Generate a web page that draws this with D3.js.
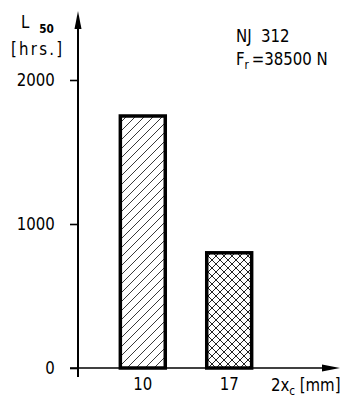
<!DOCTYPE html>
<html>
<head>
<meta charset="utf-8">
<script src="https://cdn.jsdelivr.net/npm/d3@7"></script>
<style>
  html, body { margin: 0; padding: 0; background: #fff; }
  svg { display: block; }
  text { font-family: "DejaVu Sans Condensed", "DejaVu Sans", sans-serif; font-stretch: condensed; fill: #000; }
</style>
</head>
<body>
<svg id="chart" width="342" height="399"></svg>
<script>
// Bearing life L50 versus crowning width 2x_c for NJ 312
const categories = ["10", "17"];
const lifeHours = [1750, 800];
const yTicks = [0, 1000, 2000];
const fills = ["hatch", "cross"];

const FONT = "'DejaVu Sans Condensed', 'DejaVu Sans', sans-serif";
const FS = 18.5;      // main label size
const SUB = 13;       // subscript size
const NARROW = 0.9;   // horizontal squeeze for the drafting-style lettering

// squeeze a text horizontally about its anchor x
function narrow(sel, ax) {
  sel.attr("transform", function () {
    const a = ax != null ? ax : +d3.select(this).attr("x") || 0;
    return `translate(${a},0) scale(${NARROW},1) translate(${-a},0)`;
  });
}

const svg = d3.select("#chart");

const y = d3.scaleLinear().domain([0, 2000]).range([368, 80]);
const x = d3.scaleBand().domain(categories).range([78, 294])
  .paddingInner(0.48).paddingOuter(0.49);

// hatch patterns
const defs = svg.append("defs");
const hatch = defs.append("pattern").attr("id", "hatch")
  .attr("patternUnits", "userSpaceOnUse").attr("width", 9).attr("height", 9);
hatch.append("path").attr("d", "M-1,10 L10,-1 M-2,2 L2,-2 M7,11 L11,7")
  .attr("stroke", "#222").attr("stroke-width", 0.9);

const cross = defs.append("pattern").attr("id", "cross")
  .attr("patternUnits", "userSpaceOnUse").attr("width", 8).attr("height", 8);
cross.append("path").attr("d", "M0,8 L8,0 M-1,1 L1,-1 M7,9 L9,7 M0,0 L8,8 M-1,7 L1,9 M7,-1 L9,1")
  .attr("stroke", "#222").attr("stroke-width", 1);

// bars
svg.selectAll("rect.bar").data(categories).enter().append("rect")
  .attr("class", "bar")
  .attr("x", d => x(d))
  .attr("width", x.bandwidth())
  .attr("y", (d, i) => y(lifeHours[i]))
  .attr("height", (d, i) => y(0) - y(lifeHours[i]))
  .attr("fill", (d, i) => `url(#${fills[i]})`)
  .attr("stroke", "#000").attr("stroke-width", 3.5);

// y axis ticks and labels
const yAxis = d3.axisLeft(y).tickValues(yTicks).tickSizeInner(8).tickSizeOuter(0).tickPadding(16)
  .tickFormat(d3.format("d"));
const gy = svg.append("g").attr("transform", "translate(78,0)").call(yAxis);
gy.select(".domain").remove();
gy.selectAll(".tick line").attr("stroke", "#000").attr("stroke-width", 1.6);
gy.selectAll(".tick text").attr("font-size", FS).attr("fill", "#000").style("font-family", FONT)
  .call(narrow, -16);

// x axis labels
const xAxis = d3.axisBottom(x).tickSize(0).tickPadding(9);
const gx = svg.append("g").attr("transform", `translate(0,${y(0)})`).call(xAxis);
gx.select(".domain").remove();
gx.selectAll(".tick text").attr("font-size", FS).attr("fill", "#000").style("font-family", FONT)
  .call(narrow, 0);

// axis lines with arrow heads
svg.append("line").attr("x1", 78).attr("x2", 78).attr("y1", 377).attr("y2", 20)
  .attr("stroke", "#000").attr("stroke-width", 2);
svg.append("path").attr("d", "M78,11 L74.5,29 L81.5,29 Z").attr("fill", "#000");
svg.append("line").attr("x1", 70).attr("x2", 330).attr("y1", y(0)).attr("y2", y(0))
  .attr("stroke", "#000").attr("stroke-width", 1.6);
svg.append("path").attr("d", `M340,${y(0)} L322,${y(0) - 3.5} L322,${y(0) + 3.5} Z`).attr("fill", "#000");

// axis titles
const yt = svg.append("text").attr("x", 21).attr("y", 28).attr("font-size", FS);
yt.append("tspan").text("L");
yt.append("tspan").attr("dx", 11).attr("dy", 5).attr("font-size", SUB).attr("font-weight", "bold").text("50");
yt.call(narrow);
svg.append("text").attr("x", 11).attr("y", 55).attr("font-size", FS)
  .attr("letter-spacing", 2.5).text("[hrs.]").call(narrow);

const xt = svg.append("text").attr("x", 271).attr("y", 391).attr("font-size", FS);
xt.append("tspan").text("2x");
xt.append("tspan").attr("dy", 4).attr("font-size", SUB).text("c");
xt.append("tspan").attr("dy", -4).attr("dx", 5).text("[mm]");
xt.call(narrow);

// annotation
svg.append("text").attr("x", 236).attr("y", 42).attr("font-size", FS)
  .attr("xml:space", "preserve").text("NJ  312").call(narrow);
const fr = svg.append("text").attr("x", 236).attr("y", 65).attr("font-size", FS);
fr.append("tspan").text("F");
fr.append("tspan").attr("dy", 4).attr("font-size", SUB).text("r");
fr.append("tspan").attr("dy", -4).attr("dx", 3).text("=38500 N");
fr.call(narrow);
</script>
</body>
</html>
